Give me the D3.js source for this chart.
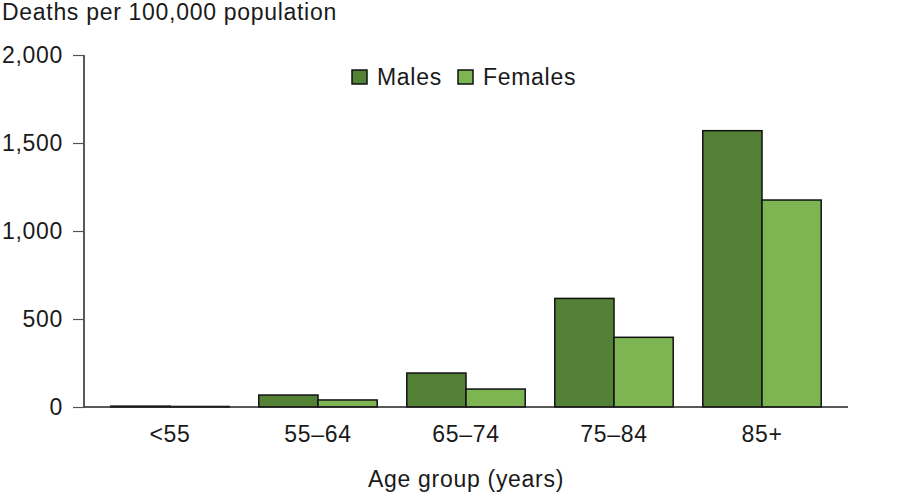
<!DOCTYPE html>
<html>
<head>
<meta charset="utf-8">
<script src="https://cdn.jsdelivr.net/npm/d3@7"></script>
<style>
  body { margin: 0; background: #fff; }
  text { font-family: "Liberation Sans", Arial, sans-serif; fill: #1a1a1a; letter-spacing: 0.7px; }
</style>
</head>
<body>
<svg id="chart" width="900" height="497"></svg>
<script>
const categories = ["<55", "55–64", "65–74", "75–84", "85+"];
const seriesNames = ["Males", "Females"];
const males = [5, 68, 193, 617, 1570];
const females = [3, 40, 102, 396, 1176];
const yTicks = [0, 500, 1000, 1500, 2000];
const colors = ["#538135", "#7db553"];

const svg = d3.select("#chart");
const fs = 23;

const x0 = d3.scaleBand().domain(categories).range([96, 836]).paddingInner(0.2).paddingOuter(0.1);
const x1 = d3.scaleBand().domain(seriesNames).range([0, x0.bandwidth()]);
const y = d3.scaleLinear().domain([0, 2000]).range([407, 55]);

const data = categories.map((c, i) => ({ cat: c, vals: [males[i], females[i]] }));

// bars
const g = svg.append("g");
g.selectAll("g.grp").data(data).join("g")
  .attr("transform", d => `translate(${x0(d.cat)},0)`)
  .selectAll("rect").data(d => d.vals.map((v, j) => ({ v, s: seriesNames[j], j })))
  .join("rect")
  .attr("x", d => x1(d.s))
  .attr("y", d => y(d.v))
  .attr("width", x1.bandwidth())
  .attr("height", d => y(0) - y(d.v))
  .attr("fill", d => colors[d.j])
  .attr("stroke", "#111")
  .attr("stroke-width", 1.5);

// y axis
const yAxis = d3.axisLeft(y).tickValues(yTicks).tickSize(11).tickPadding(10)
  .tickFormat(d3.format(","));
const ya = svg.append("g").attr("transform", "translate(84,0)").call(yAxis);
ya.select(".domain").attr("stroke", "#222").attr("stroke-width", 1.5).attr("d", "M0,55V407");
ya.selectAll(".tick line").attr("stroke", "#555").attr("stroke-width", 1.2);
ya.selectAll(".tick text").attr("font-size", fs).attr("fill", "#1a1a1a")
  .style("font-family", '"Liberation Sans", Arial, sans-serif');

// x axis line
svg.append("line").attr("x1", 84).attr("x2", 848).attr("y1", 407).attr("y2", 407)
  .attr("stroke", "#222").attr("stroke-width", 1.5);

// x labels
svg.append("g").selectAll("text").data(categories).join("text")
  .attr("x", d => x0(d) + x0.bandwidth() / 2)
  .attr("y", 442)
  .attr("text-anchor", "middle")
  .attr("font-size", fs)
  .text(d => d);

// titles
svg.append("text").attr("x", 2).attr("y", 20).attr("font-size", fs)
  .text("Deaths per 100,000 population");
svg.append("text").attr("x", 466).attr("y", 487).attr("text-anchor", "middle")
  .attr("font-size", fs).text("Age group (years)");

// legend
const legX = [352, 458];
const leg = svg.append("g");
seriesNames.forEach((s, i) => {
  leg.append("rect").attr("x", legX[i]).attr("y", 70).attr("width", 15).attr("height", 14)
    .attr("fill", colors[i]).attr("stroke", "#111").attr("stroke-width", 1.5);
  leg.append("text").attr("x", legX[i] + 25).attr("y", 85).attr("font-size", fs).text(s);
});
</script>
</body>
</html>
